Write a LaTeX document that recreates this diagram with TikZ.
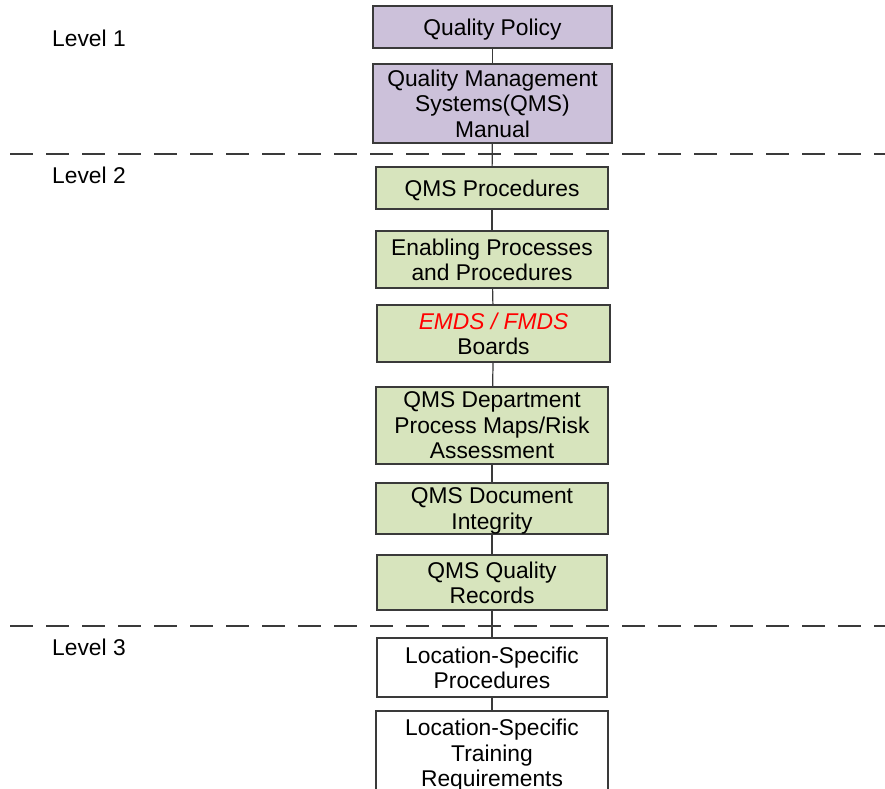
\documentclass[tikz,border=0pt]{standalone}
\usepackage{fontspec}
\setmainfont{Liberation Sans}
\definecolor{lav}{HTML}{CCC1DA}
\definecolor{grn}{HTML}{D7E4BD}
\definecolor{edge}{HTML}{3A3A3A}
\tikzset{
  box/.style={draw=edge, line width=1.2pt, inner sep=0pt, align=center, text depth=0pt,
    font=\fontsize{22.8}{25.5}\selectfont},
  purplebox/.style={box, fill=lav},
  greenbox/.style={box, fill=grn},
  whitebox/.style={box, fill=white},
  conn/.style={draw=edge, line width=1.2pt},
  levelsep/.style={draw=edge, line width=1.4pt, dash pattern=on 23pt off 13pt},
  lvl/.style={anchor=west, inner sep=0pt, font=\fontsize{22.8}{25.5}\selectfont}
}
\begin{document}
\begin{tikzpicture}[x=1pt,y=-1pt]
\useasboundingbox (0,0) rectangle (885,788);
\clip (0,0) rectangle (885,788);
\fill[white] (0,0) rectangle (885,788);

\coordinate (s1a) at (10,154);
\coordinate (s1b) at (885,154);
\coordinate (s2a) at (10,626);
\coordinate (s2b) at (885,626);
\draw[levelsep] (s1a) -- (s1b);
\draw[levelsep] (s2a) -- (s2b);

\node[purplebox, minimum width=239pt, minimum height=42pt] (qp) at (492.5,27) {Quality Policy};
\node[purplebox, minimum width=239pt, minimum height=79pt] (man) at (492.5,103.5) {Quality Management\\Systems(QMS)\\Manual};
\node[greenbox, minimum width=232pt, minimum height=42pt] (proc) at (492,188) {QMS Procedures};
\node[greenbox, minimum width=232pt, minimum height=57pt] (enab) at (492,259.5) {Enabling Processes\\and Procedures};
\node[greenbox, minimum width=233pt, minimum height=57pt] (emds) at (493.5,333.5) {\textcolor{red}{\itshape EMDS / FMDS}\\Boards};
\node[greenbox, minimum width=232pt, minimum height=77pt] (dept) at (492,425.5) {QMS Department\\Process Maps/Risk\\Assessment};
\node[greenbox, minimum width=232pt, minimum height=51pt] (doc) at (492,508.5) {QMS Document\\Integrity};
\node[greenbox, minimum width=230pt, minimum height=55pt] (rec) at (492,582.5) {QMS Quality\\Records};
\node[whitebox, minimum width=230pt, minimum height=59pt] (lsp) at (492,667.5) {Location-Specific\\Procedures};
\node[whitebox, minimum width=232pt, minimum height=84pt] (lst) at (492,753) {Location-Specific\\Training\\Requirements};

\draw[conn] (qp) -- (man);
\draw[conn] (man) -- (proc);
\draw[conn] (proc) -- (enab);
\draw[conn] (enab) -- (emds);
\draw[conn] (emds) -- (dept);
\draw[conn] (dept) -- (doc);
\draw[conn] (doc) -- (rec);
\draw[conn] (rec) -- (lsp);
\draw[conn] (lsp) -- (lst);

\node[lvl] (l1) at (52,38) {Level 1};
\node[lvl] (l2) at (52,175) {Level 2};
\node[lvl] (l3) at (52,647) {Level 3};
\end{tikzpicture}
\end{document}
